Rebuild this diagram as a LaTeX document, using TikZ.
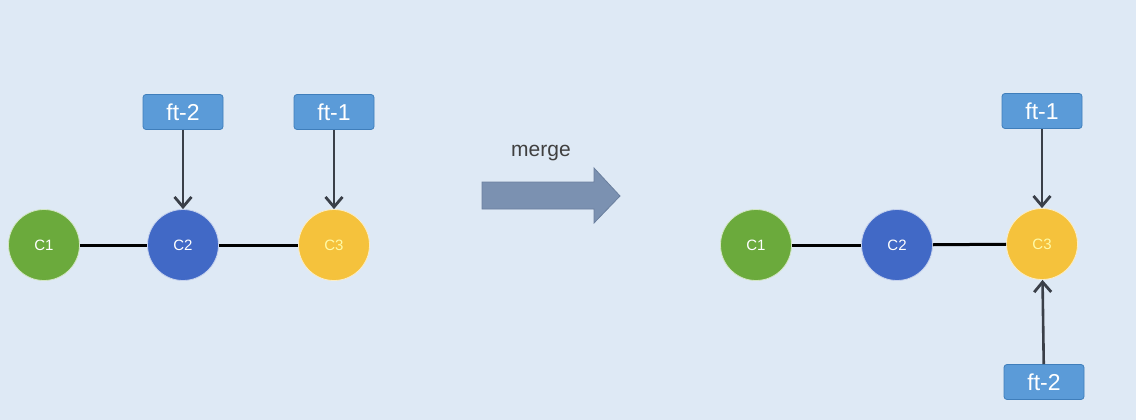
\documentclass[tikz,border=0pt]{standalone}
\usepackage{fontspec}
\setmainfont{Liberation Sans}
\usetikzlibrary{arrows.meta}
\definecolor{bgblue}{HTML}{DEE9F5}
\definecolor{commitgreen}{HTML}{6BAA3C}
\definecolor{commitblue}{HTML}{4169C6}
\definecolor{commityellow}{HTML}{F5C23C}
\definecolor{tagblue}{HTML}{5B9BD8}
\definecolor{tagedge}{HTML}{3F7EBB}
\definecolor{pointer}{HTML}{3A3F48}
\definecolor{mergefill}{HTML}{7B91B1}
\definecolor{mergeedge}{HTML}{6A7F9E}
\begin{document}
\begin{tikzpicture}[x=1pt,y=-1pt]
    \tikzset{
      commit/.style={circle,minimum size=71pt,inner sep=0pt,draw=white!70!#1,line width=0.8pt,fill=#1,text=white,font=\fontsize{15}{15}\selectfont},
      branch/.style={rectangle,rounded corners=3pt,minimum width=80pt,minimum height=35pt,inner sep=0pt,fill=tagblue,draw=tagedge,line width=0.8pt,text=white,font=\fontsize{23}{23}\selectfont},
      pointsto/.style={draw=pointer,line width=2.6pt,-{Straight Barb[length=10pt,width=17pt,line width=2.8pt]}},
      link/.style={draw=black,line width=3pt}
    }
    \fill [bgblue] (0,0) rectangle (1136,420);
    % before merge
    \node [commit=commitgreen] (a1) at (44,245) {C1};
    \node [commit=commitblue] (a2) at (183,245) {C2};
    \node [commit=commityellow,text=yellow!35!white] (a3) at (334,245) {C3};
    \node [branch] (aft2) at (183,112) {ft-2};
    \node [branch] (aft1) at (334,112) {ft-1};
    \draw [link] (a1) -- (a2);
    \draw [link] (a2) -- (a3);
    \draw [pointsto] (aft2) -- (a2);
    \draw [pointsto] (aft1) -- (a3);
    % merge arrow
    \node [font=\fontsize{21}{21}\selectfont,text=black!75] (mergelabel) at (541,153) {merge};
    \filldraw [fill=mergefill,draw=mergeedge,line width=0.8pt]
      (482,182) -- (594,182) -- (594,168) -- (620,196) -- (594,223) -- (594,209) -- (482,209) -- cycle;
    % after merge
    \node [commit=commitgreen] (b1) at (756,245) {C1};
    \node [commit=commitblue] (b2) at (897,245) {C2};
    \node [commit=commityellow,text=yellow!35!white] (b3) at (1042,244) {C3};
    \node [branch] (bft1) at (1042,111) {ft-1};
    \node [branch] (bft2) at (1044,382) {ft-2};
    \draw [link] (b1) -- (b2);
    \draw [link] (b2) -- (b3);
    \draw [pointsto] (bft1) -- (b3);
    \draw [pointsto] (bft2) -- (b3);
\end{tikzpicture}
\end{document}
